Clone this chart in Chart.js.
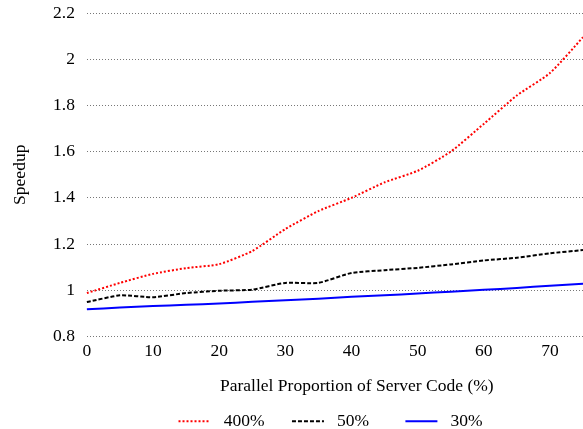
<!DOCTYPE html>
<html>
<head>
<meta charset="utf-8">
<script src="https://cdn.jsdelivr.net/npm/chart.js@4"></script>
<style>
  body { margin: 0; background: #fff; }
  #wrap { width: 583px; height: 429px; }
</style>
</head>
<body>
<div id="wrap"><canvas id="myChart"></canvas></div>
<script>
const xValues = [0, 5, 10, 15, 20, 25, 30, 35, 40, 45, 50, 55, 60, 65, 70, 75];
const seriesNames = ["400%", "50%", "30%"];
const speedup400 = [0.988, 1.032, 1.071, 1.096, 1.113, 1.17, 1.265, 1.343, 1.40, 1.467, 1.517, 1.60, 1.72, 1.843, 1.94, 2.095];
const speedup50 = [0.949, 0.978, 0.970, 0.988, 0.998, 1.003, 1.032, 1.032, 1.075, 1.087, 1.097, 1.112, 1.129, 1.141, 1.16, 1.174];
const speedup30 = [0.918, 0.925, 0.932, 0.937, 0.943, 0.95, 0.957, 0.963, 0.972, 0.978, 0.986, 0.994, 1.002, 1.01, 1.02, 1.028];
const xTitle = "Parallel Proportion of Server Code (%)";
const yTitle = "Speedup";
const lineColors = [
    "#ff0000", //400%
    "#000000", //50%
    "#0000ff"  //30%
];
const lineDashes = [[2, 2], [4, 2], []];
const legendSpaces = [4, 6, 2]; //trailing spaces so items sit in even columns
const font = "'Liberation Serif', 'Times New Roman', serif";
const fontSize = 17.5;

function toPoints(ys) {
    return xValues.map((x, i) => ({ x: x, y: ys[i] }));
}

const allSeries = [speedup400, speedup50, speedup30];
const datasets = allSeries.map((ys, i) => ({
    label: seriesNames[i],
    data: toPoints(ys),
    borderColor: lineColors[i],
    backgroundColor: "transparent",
    borderDash: lineDashes[i],
    borderWidth: 2,
    pointRadius: 0,
    pointStyle: "line",
    tension: 0.2,
    clip: false
}));

//legend keeps the dash of each line
function legendLabels(chart) {
    return chart.data.datasets.map((ds, i) => ({
        text: " " + ds.label + " ".repeat(legendSpaces[i]),
        fillStyle: "transparent",
        strokeStyle: ds.borderColor,
        fontColor: "#000",
        lineWidth: 2,
        lineDash: ds.borderDash,
        pointStyle: "line",
        hidden: false,
        datasetIndex: i
    }));
}

new Chart("myChart", {
    type: "line",
    data: { datasets: datasets },
    options: {
        responsive: true,
        maintainAspectRatio: false,
        animation: false,
        layout: { padding: { top: 0, right: 0, left: 6, bottom: -11 } },
        scales: {
            x: {
                type: "linear",
                min: 0,
                max: 75,
                grid: { display: false, drawTicks: false },
                border: { display: false },
                ticks: {
                    stepSize: 10,
                    includeBounds: false,
                    color: "#000",
                    font: { family: font, size: fontSize },
                    padding: 4
                },
                title: {
                    display: true,
                    //leading spaces push the title right of the plot centre, as in the original
                    text: " ".repeat(10) + xTitle,
                    color: "#000",
                    font: { family: font, size: fontSize },
                    padding: { top: 10, bottom: 6 }
                }
            },
            y: {
                min: 0.8,
                max: 2.2,
                afterFit: (scale) => { scale.paddingTop = 13; },
                grid: {
                    color: "#777",
                    lineWidth: 1,
                    drawTicks: false
                },
                border: { display: false, dash: [1, 2] },
                ticks: {
                    stepSize: 0.2,
                    color: "#000",
                    font: { family: font, size: fontSize, lineHeight: 1 },
                    padding: 12,
                    callback: (v) => String(Number(v.toFixed(1)))
                },
                title: {
                    display: true,
                    text: yTitle,
                    color: "#000",
                    font: { family: font, size: fontSize },
                    padding: { bottom: 10 }
                }
            }
        },
        plugins: {
            legend: {
                position: "bottom",
                fullSize: false,
                labels: {
                    usePointStyle: true,
                    pointStyleWidth: 32,
                    padding: 10,
                    color: "#000",
                    font: { family: font, size: fontSize },
                    generateLabels: legendLabels
                }
            },
            tooltip: { enabled: false }
        }
    }
});
</script>
</body>
</html>
